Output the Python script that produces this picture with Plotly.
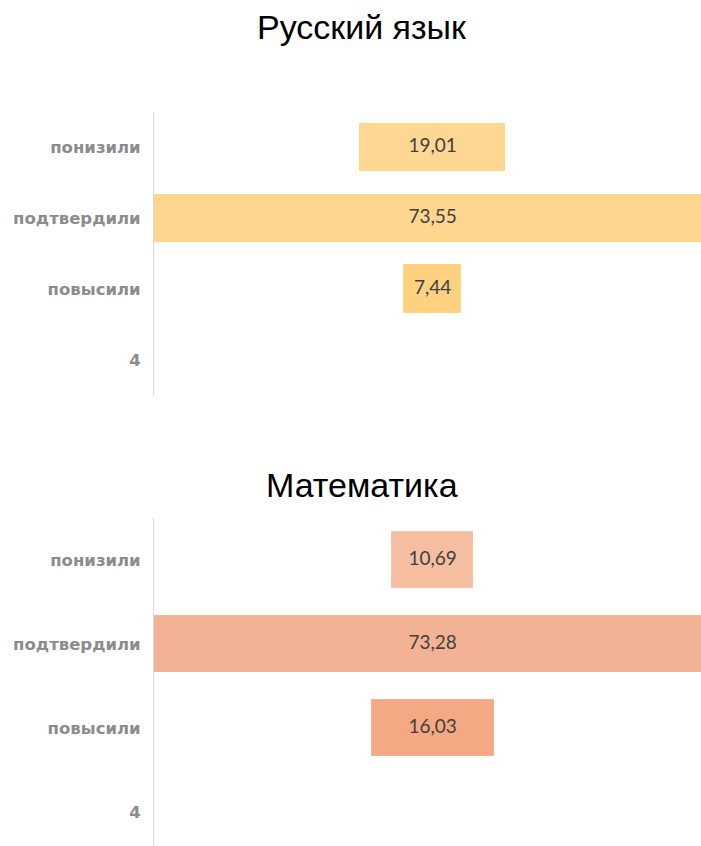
import plotly.graph_objects as go

categories = ["понизили", "подтвердили", "повысили"]
all_ticks = ["4", "повысили", "подтвердили", "понизили"]
rus_values = [19.01, 73.55, 7.44]
math_values = [10.69, 73.28, 16.03]
rus_labels = ["19,01", "73,55", "7,44"]
math_labels = ["10,69", "73,28", "16,03"]
titles = ["Русский язык", "Математика"]

rus_colors = ["#FED893", "#FED68E", "#FDD17F"]
rus_lines = ["#FFD77C", "#FFD67A", "#FFD57A"]
math_colors = ["#F6BEA1", "#F4B294", "#F5A884"]
math_lines = ["#F8C4A8", "#F6B698", "#F8B08E"]

W, H = 701, 846
L = 154
fig = go.Figure()

def add(values, labels, colors, lines, xa, ya):
    fig.add_trace(go.Bar(
        y=categories, x=values, base=[-v / 2 for v in values], orientation="h",
        width=0.67, marker=dict(color=colors, line=dict(color=lines, width=1)),
        xaxis=xa, yaxis=ya, hoverinfo="skip", showlegend=False,
    ))
    fig.add_trace(go.Scatter(
        y=categories, x=[0] * len(values), text=labels, mode="text",
        textfont=dict(family="Lato", size=19, color="#404040"),
        xaxis=xa, yaxis=ya, hoverinfo="skip", showlegend=False, cliponaxis=False,
    ))

add(rus_values, rus_labels, rus_colors, rus_lines, "x", "y")
add(math_values, math_labels, math_colors, math_lines, "x2", "y2")

xr = [-36.55, 35.2]
xcommon = dict(range=xr, showticklabels=False, showgrid=False, zeroline=False, showline=False, fixedrange=True)
ycommon = dict(type="category", categoryorder="array", categoryarray=all_ticks,
               showgrid=False, zeroline=False, showline=True, linecolor="#D9D9D9", linewidth=1,
               ticks="", ticklabelstandoff=9, fixedrange=True,
               tickfont=dict(family="DejaVu Sans", size=16.5, color="#8C8C8C", weight="bold"))

def py(p):
    return 1 - p / H

fig.update_layout(
    width=W, height=H, margin=dict(l=L, r=0, t=0, b=0),
    paper_bgcolor="white", plot_bgcolor="white", bargap=0,
    xaxis=dict(domain=[0, 1], anchor="y", **xcommon),
    xaxis2=dict(domain=[0, 1], anchor="y2", **xcommon),
    yaxis=dict(domain=[py(395.5), py(112)], anchor="x", range=[-0.5, 3.5], **ycommon),
    yaxis2=dict(domain=[0, py(518)], anchor="x2", range=[-0.5 + (854 - 846) / 84, 3.5], **ycommon),
    annotations=[
        dict(text=titles[0], xref="paper", yref="paper", x=(362 - L) / (W - L), y=py(27),
             xanchor="center", yanchor="middle", showarrow=False,
             font=dict(family="Liberation Sans", size=34, color="#000000")),
        dict(text=titles[1], xref="paper", yref="paper", x=(362 - L) / (W - L), y=py(485),
             xanchor="center", yanchor="middle", showarrow=False,
             font=dict(family="Liberation Sans", size=34, color="#000000")),
    ],
)

fig.write_html("out.html", config={"displayModeBar": False},
               post_script="document.body.style.margin='0';document.body.style.overflow='hidden';")
